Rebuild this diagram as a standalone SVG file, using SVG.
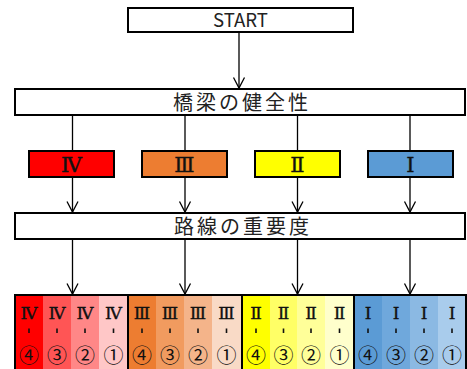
<svg xmlns="http://www.w3.org/2000/svg" width="467" height="369" viewBox="0 0 467 369">
<defs>
<marker id="ah" markerUnits="userSpaceOnUse" markerWidth="14" markerHeight="14" viewBox="-12 -7 14 14" refX="0" refY="0" orient="auto">
<path d="M-10.5,-5.5 L0,0 L-10.5,5.5" fill="none" stroke="#000" stroke-width="1.3"/>
</marker>
<style>
.box{fill:#fff;stroke:#000;stroke-width:2}
.cbox{stroke:#000;stroke-width:2}
.ln{stroke:#000;stroke-width:1.3;fill:none}
.ttl{font-family:"Noto Sans CJK JP",sans-serif;font-size:20px;letter-spacing:3px;fill:#222;text-anchor:middle}
.st{font-family:"Noto Sans CJK JP",sans-serif;font-size:19px;fill:#222;text-anchor:middle}
.rn{font-family:"Liberation Serif","DejaVu Serif","Noto Sans CJK JP",serif;font-size:21px;fill:#111;stroke:#111;stroke-width:0.4;text-anchor:middle}
.rs{font-family:"Liberation Serif","DejaVu Serif","Noto Sans CJK JP",serif;font-size:17px;fill:#111;stroke:#111;stroke-width:0.35;text-anchor:middle}
.cn{font-family:"Noto Sans CJK JP",sans-serif;font-size:20px;fill:#111;text-anchor:middle}
.tk{stroke:#111;stroke-width:1.6}
.grp{fill:none;stroke:#000;stroke-width:2}
</style>
</defs>

<g id="connectors">
<line class="ln" x1="239" y1="32" x2="239" y2="88" marker-end="url(#ah)"/>
<line class="ln" x1="72.5" y1="115" x2="72.5" y2="151"/>
<line class="ln" x1="185" y1="115" x2="185" y2="151"/>
<line class="ln" x1="297.5" y1="115" x2="297.5" y2="151"/>
<line class="ln" x1="410" y1="115" x2="410" y2="151"/>
<line class="ln" x1="72.5" y1="177" x2="72.5" y2="212" marker-end="url(#ah)"/>
<line class="ln" x1="185" y1="177" x2="185" y2="212" marker-end="url(#ah)"/>
<line class="ln" x1="297.5" y1="177" x2="297.5" y2="212" marker-end="url(#ah)"/>
<line class="ln" x1="410" y1="177" x2="410" y2="212" marker-end="url(#ah)"/>
<line class="ln" x1="72.5" y1="239" x2="72.5" y2="294" marker-end="url(#ah)"/>
<line class="ln" x1="185" y1="239" x2="185" y2="294" marker-end="url(#ah)"/>
<line class="ln" x1="297.5" y1="239" x2="297.5" y2="294" marker-end="url(#ah)"/>
<line class="ln" x1="410" y1="239" x2="410" y2="294" marker-end="url(#ah)"/>
</g>

<g id="start">
<rect class="box" x="128" y="8" width="225" height="24"/>
<text class="st" x="240.5" y="27" textLength="55" lengthAdjust="spacingAndGlyphs">START</text>
</g>

<g id="kenzensei">
<rect class="box" x="15" y="89" width="450" height="26"/>
<text class="ttl" x="242" y="110">橋梁の健全性</text>
</g>

<g id="rank4">
<rect class="cbox" x="29" y="151" width="85" height="26" fill="#FF0000"/>
<text class="rn" x="71.5" y="172">Ⅳ</text>
</g>
<g id="rank3">
<rect class="cbox" x="142" y="151" width="85" height="26" fill="#ED7D31"/>
<text class="rn" x="184.5" y="172">Ⅲ</text>
</g>
<g id="rank2">
<rect class="cbox" x="255" y="151" width="85" height="26" fill="#FFFF00"/>
<text class="rn" x="297.5" y="172">Ⅱ</text>
</g>
<g id="rank1">
<rect class="cbox" x="368" y="151" width="85" height="26" fill="#5B9BD5"/>
<text class="rn" x="410.5" y="172">Ⅰ</text>
</g>

<g id="juyodo">
<rect class="box" x="15" y="213" width="450" height="26"/>
<text class="ttl" x="243" y="234">路線の重要度</text>
</g>

<g id="grid4">
<rect x="15" y="295" width="28" height="75" fill="#FF0000"/>
<rect x="43" y="295" width="28" height="75" fill="#FF5555"/>
<rect x="71" y="295" width="28" height="75" fill="#FF8787"/>
<rect x="99" y="295" width="29" height="75" fill="#FFC7C7"/>
<rect class="grp" x="15" y="295" width="113" height="76"/>
<text class="rs" x="29" y="318.5">Ⅳ</text><line class="tk" x1="29" y1="328.5" x2="29" y2="333"/><text class="cn" x="29" y="363">④</text>
<text class="rs" x="57" y="318.5">Ⅳ</text><line class="tk" x1="57" y1="328.5" x2="57" y2="333"/><text class="cn" x="57" y="363">③</text>
<text class="rs" x="85" y="318.5">Ⅳ</text><line class="tk" x1="85" y1="328.5" x2="85" y2="333"/><text class="cn" x="85" y="363">②</text>
<text class="rs" x="113.5" y="318.5">Ⅳ</text><line class="tk" x1="113.5" y1="328.5" x2="113.5" y2="333"/><text class="cn" x="113.5" y="363">①</text>
</g>

<g id="grid3">
<rect x="128" y="295" width="28" height="75" fill="#ED7D31"/>
<rect x="156" y="295" width="28" height="75" fill="#F19B5F"/>
<rect x="184" y="295" width="28" height="75" fill="#F4B48A"/>
<rect x="212" y="295" width="30" height="75" fill="#F9DAC6"/>
<rect class="grp" x="128" y="295" width="114" height="76"/>
<text class="rs" x="142" y="318.5">Ⅲ</text><line class="tk" x1="142" y1="328.5" x2="142" y2="333"/><text class="cn" x="142" y="363">④</text>
<text class="rs" x="170" y="318.5">Ⅲ</text><line class="tk" x1="170" y1="328.5" x2="170" y2="333"/><text class="cn" x="170" y="363">③</text>
<text class="rs" x="198" y="318.5">Ⅲ</text><line class="tk" x1="198" y1="328.5" x2="198" y2="333"/><text class="cn" x="198" y="363">②</text>
<text class="rs" x="226.5" y="318.5">Ⅲ</text><line class="tk" x1="226.5" y1="328.5" x2="226.5" y2="333"/><text class="cn" x="226.5" y="363">①</text>
</g>

<g id="grid2">
<rect x="242" y="295" width="28" height="75" fill="#FFFF00"/>
<rect x="270" y="295" width="27" height="75" fill="#FFFF66"/>
<rect x="297" y="295" width="28" height="75" fill="#FFFF99"/>
<rect x="325" y="295" width="29" height="75" fill="#FFFFCC"/>
<rect class="grp" x="242" y="295" width="112" height="76"/>
<text class="rs" x="256" y="318.5">Ⅱ</text><line class="tk" x1="256" y1="328.5" x2="256" y2="333"/><text class="cn" x="256" y="363">④</text>
<text class="rs" x="283.5" y="318.5">Ⅱ</text><line class="tk" x1="283.5" y1="328.5" x2="283.5" y2="333"/><text class="cn" x="283.5" y="363">③</text>
<text class="rs" x="311" y="318.5">Ⅱ</text><line class="tk" x1="311" y1="328.5" x2="311" y2="333"/><text class="cn" x="311" y="363">②</text>
<text class="rs" x="339.5" y="318.5">Ⅱ</text><line class="tk" x1="339.5" y1="328.5" x2="339.5" y2="333"/><text class="cn" x="339.5" y="363">①</text>
</g>

<g id="grid1">
<rect x="354" y="295" width="28" height="75" fill="#5B9BD5"/>
<rect x="382" y="295" width="28" height="75" fill="#6FA8DC"/>
<rect x="410" y="295" width="28" height="75" fill="#8BB9E3"/>
<rect x="438" y="295" width="28" height="75" fill="#A9CCEC"/>
<rect class="grp" x="354" y="295" width="112" height="76"/>
<text class="rs" x="368" y="318.5">Ⅰ</text><line class="tk" x1="368" y1="328.5" x2="368" y2="333"/><text class="cn" x="368" y="363">④</text>
<text class="rs" x="396" y="318.5">Ⅰ</text><line class="tk" x1="396" y1="328.5" x2="396" y2="333"/><text class="cn" x="396" y="363">③</text>
<text class="rs" x="424" y="318.5">Ⅰ</text><line class="tk" x1="424" y1="328.5" x2="424" y2="333"/><text class="cn" x="424" y="363">②</text>
<text class="rs" x="452" y="318.5">Ⅰ</text><line class="tk" x1="452" y1="328.5" x2="452" y2="333"/><text class="cn" x="452" y="363">①</text>
</g>
</svg>
